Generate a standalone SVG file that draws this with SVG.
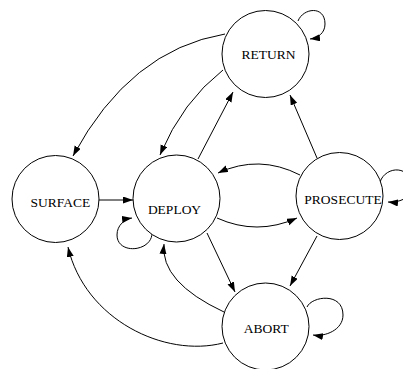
<svg xmlns="http://www.w3.org/2000/svg" width="403" height="369" viewBox="0 0 403 369">
<defs>
<style>
.n{fill:#fff;stroke:#000;stroke-width:1}
.t{font-family:"Liberation Serif","Times New Roman",serif;font-size:13.5px;text-anchor:middle;fill:#000}
.e{fill:none;stroke:#000;stroke-width:1;marker-end:url(#ah)}
</style>
<marker id="ah" markerUnits="userSpaceOnUse" markerWidth="10" markerHeight="8" refX="10" refY="3.5" orient="auto">
<path d="M0,0 L10,3.5 L0,7 z" fill="#000"/>
</marker>
</defs>
<rect width="403" height="369" fill="#fff"/>
<g id="connectors">
<path class="e" d="M225,34 Q130,50 73,156"/>
<path class="e" d="M223,70 Q182.5,101.5 160,155"/>
<path class="e" d="M198,159 L233,92"/>
<path class="e" d="M317,158 L290,95"/>
<path class="e" d="M300,175 Q259,154 218,173"/>
<path class="e" d="M217,218 Q257,236 297,218"/>
<path class="e" d="M207,233 L235,292"/>
<path class="e" d="M317,236 L290,286"/>
<path class="e" d="M224,312 Q160,282 164,244"/>
<path class="e" d="M223,343 C165,358 85,320 68,247"/>
<path class="e" d="M99,200 L133,200"/>
<path class="e" d="M298,21 C303,8 325,5 325,24 C325,33 318,38 310,39"/>
<path class="e" d="M152,233 C152,252 117,255 117,235 C117,225 125,219 132,218"/>
<path class="e" d="M380,182 C386,165 412,165 412,188 C412,198 398,203 388,202"/>
<path class="e" d="M307,307 C312,296 343,292 343,315 C343,330 325,337 313,335"/>
</g>
<g id="RETURN"><circle class="n" cx="265.5" cy="54" r="43.5"/><text class="t" x="268.5" y="59">RETURN</text></g>
<g id="SURFACE"><circle class="n" cx="55.5" cy="199" r="43.5"/><text class="t" x="60.3" y="207">SURFACE</text></g>
<g id="DEPLOY"><circle class="n" cx="176.5" cy="198.5" r="43.5"/><text class="t" x="174.5" y="214">DEPLOY</text></g>
<g id="PROSECUTE"><circle class="n" cx="339.5" cy="196" r="43.5"/><text class="t" x="343" y="204">PROSECUTE</text></g>
<g id="ABORT"><circle class="n" cx="265.5" cy="326.5" r="43.5"/><text class="t" x="266.3" y="332.5">ABORT</text></g>
</svg>
